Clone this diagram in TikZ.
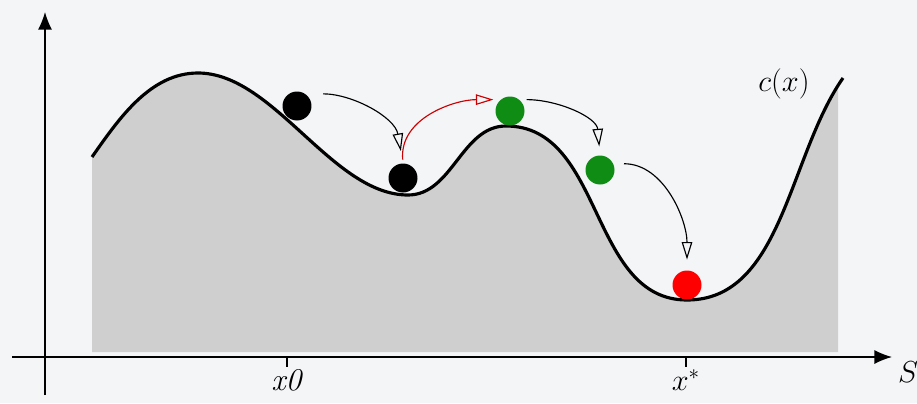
\documentclass[tikz,border=0pt]{standalone}
\usepackage{amsmath}
\usepackage{tikz}
\usetikzlibrary{arrows.meta, positioning, calc}

\definecolor{bgpaper}{RGB}{243,245,247}
\definecolor{hillgray}{RGB}{207,207,207}
\definecolor{ballgreen}{RGB}{15,140,20}

\begin{document}
\begin{tikzpicture}[
  x=0.02cm, y=-0.02cm,
  ball/.style  = {circle, draw=none, inner sep=0pt, minimum size=0.58cm},
  jump/.style  = {-{Triangle[open, length=10pt, width=6pt]}, line width=0.65pt},
  lbl/.style   = {font=\fontsize{18}{20}\selectfont},
]
  % Canvas
  \fill[bgpaper] (0,0) rectangle (917,403);
  \useasboundingbox (0,0) rectangle (917,403);

  % Cost landscape
  \coordinate (h0) at (92,157);
  \coordinate (h1) at (198,73);
  \coordinate (h2) at (408,195);
  \coordinate (h3) at (506,126);
  \coordinate (h4) at (687,300);
  \coordinate (h5) at (843,78);
  \def\hill{(h0) to[out=55, in=180, looseness=0.9] (h1)
    to[out=0, in=180, looseness=0.8] (h2)
    to[out=0, in=180, looseness=0.95] (h3)
    to[out=0, in=180, looseness=1.0] (h4)
    to[out=0, in=235, looseness=0.9] (h5)}
  \fill[hillgray] (92,352) -- \hill -- (838,86) -- (838,352) -- cycle;
  \draw[line width=1.8pt] \hill;

  % Axes
  \coordinate (yo) at (45,395);
  \coordinate (yt) at (45,12);
  \coordinate (xo) at (12,357);
  \coordinate (xt) at (892,357);
  \draw[-{Latex[length=10pt, width=8pt]}, line width=0.8pt] (yo) -- (yt);
  \draw[-{Latex[length=10pt, width=8pt]}, line width=0.8pt] (xo) -- (xt);
  \node[lbl, anchor=west, inner sep=1pt] (sx) at (896,372) {$S$};

  % Ticks
  \draw[line width=0.6pt] (287,357) -- ++(0,10) node[lbl, below=-2pt] (t0) {\textit{x0}};
  \draw[line width=0.6pt] (686,357) -- ++(0,10) node[lbl, below=-2pt] (ts) {$x^*$};
  \node[lbl] (cx) at (784,84) {$c(x)$};

  % Balls
  \node[ball, fill=black]     (b1) at (297,106) {};
  \node[ball, fill=black]     (b2) at (403,178) {};
  \node[ball, fill=ballgreen] (b3) at (510,111) {};
  \node[ball, fill=ballgreen] (b4) at (600,170) {};
  \node[ball, fill=red]       (b5) at (687,285) {};

  % Moves
  \draw[jump, shorten <=10pt, shorten >=7pt] (b1.55) to[out=0, in=100] (b2.north);
  \draw[jump, red!80!black, shorten <=2pt, shorten >=4pt] (b2.north) to[out=95, in=180] (b3.130);
  \draw[jump, shorten <=4pt, shorten >=5pt] (b3.50) to[out=0, in=95] (b4.north);
  \draw[jump, shorten <=6pt, shorten >=6pt] (b4.25) to[out=0, in=90] (b5.north);
\end{tikzpicture}
\end{document}
